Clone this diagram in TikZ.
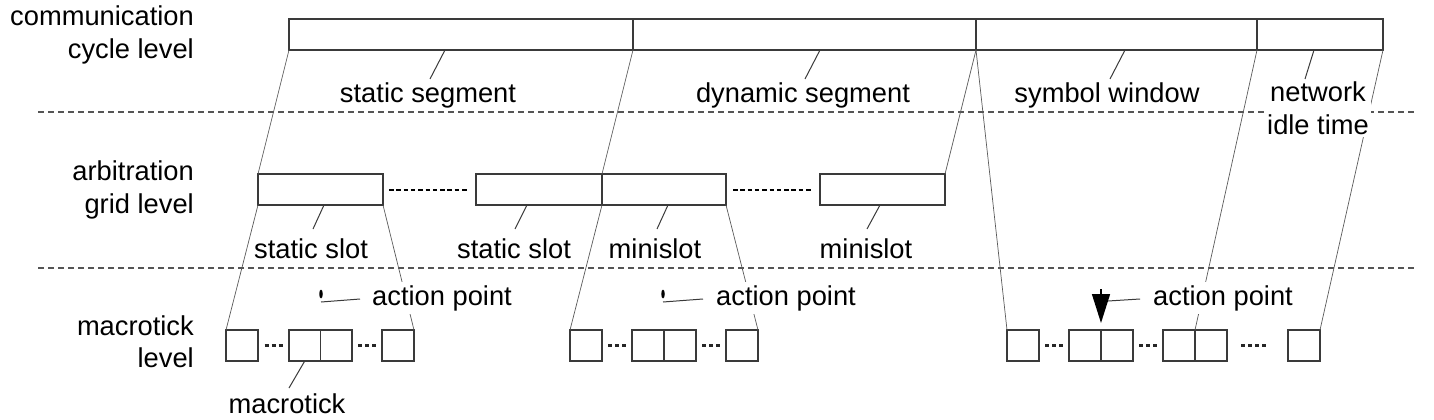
\documentclass[tikz,border=0pt]{standalone}
\usepackage{fontspec}
\setmainfont{Liberation Sans}
\usetikzlibrary{arrows.meta,calc,shapes.geometric}
\definecolor{boxc}{HTML}{3A3A3A}
\definecolor{connc}{HTML}{5A5A5A}
\definecolor{sepc}{HTML}{555555}
\begin{document}
\begin{tikzpicture}[x=1pt,y=-1pt,
  box/.style={draw=boxc, line width=1.3pt, rectangle, inner sep=0pt, outer sep=0pt, minimum height=31pt},
  tick/.style={box, minimum width=32pt},
  conn/.style={draw=connc, line width=0.7pt},
  leader/.style={draw=boxc, line width=1pt},
  sepline/.style={draw=sepc, line width=1.3pt, dash pattern=on 6pt off 4pt},
  dotsrow/.style={draw=black, line width=2pt, dash pattern=on 4.5pt off 2.8pt},
  dotstick/.style={draw=black!85, line width=2.4pt, dash pattern=on 4pt off 3pt},
  lbl/.style={font=\fontsize{27.3}{33}\selectfont, inner sep=0pt, text=black},
  white/.style={fill=white, inner sep=3pt},
  blob/.style={ellipse, fill=black, inner sep=0pt, minimum width=3.5pt, minimum height=9pt}
]
\useasboundingbox (0,0) rectangle (1434,420);

% separators
\coordinate (s1a) at (38,112); \coordinate (s1b) at (1415,112);
\coordinate (s2a) at (38,268); \coordinate (s2b) at (1415,268);
\draw[sepline] (s1a) -- (s1b);
\draw[sepline] (s2a) -- (s2b);

% communication cycle level
\node[box, minimum width=344pt] (ss)  at (461,34.5) {};
\node[box, minimum width=343pt] (ds)  at (804.5,34.5) {};
\node[box, minimum width=281pt] (sw)  at (1116.5,34.5) {};
\node[box, minimum width=126pt] (nit) at (1320,34.5) {};

% arbitration grid level
\node[box, minimum width=125pt] (sl1) at (320.5,189.5) {};
\node[box, minimum width=126pt] (sl2) at (539,189.5) {};
\node[box, minimum width=124pt] (ms1) at (664,189.5) {};
\node[box, minimum width=125pt] (ms2) at (882.5,189.5) {};

% macrotick level
\node[tick] (g1a) at (242,345.5) {};
\node[tick, minimum width=31.5pt] (g1b) at (304.75,345.5) {};
\node[tick, minimum width=31.5pt] (g1c) at (336.25,345.5) {};
\node[tick] (g1d) at (398,345.5) {};
\node[tick] (g2a) at (586,345.5) {};
\node[tick] (g2b) at (648,345.5) {};
\node[tick] (g2c) at (680,345.5) {};
\node[tick] (g2d) at (742,345.5) {};
\node[tick] (g3a) at (1023,345.5) {};
\node[tick] (g3b) at (1085,345.5) {};
\node[tick] (g3c) at (1117,345.5) {};
\node[tick] (g3d) at (1179,345.5) {};
\node[tick] (g3e) at (1211,345.5) {};
\node[tick] (g3f) at (1304,345.5) {};

% connectors between levels
\draw[conn] (ss.south west) -- (sl1.north west);
\draw[conn] (ds.south west) -- (ms1.north west);
\draw[conn] (ds.south east) -- (ms2.north east);
\draw[conn] (sw.south west) -- (g3a.north west);
\draw[conn] (sw.south east) -- (g3d.north east);
\draw[conn] (nit.south east) -- (g3f.north east);
\draw[conn] (sl1.south west) -- (g1a.north west);
\draw[conn] (sl1.south east) -- (g1d.north east);
\draw[conn] (ms1.south west) -- (g2a.north west);
\draw[conn] (ms1.south east) -- (g2d.north east);

% dotted continuation marks
\draw[dotsrow] ([xshift=6pt]sl1.east) -- ([xshift=-7pt]sl2.west);
\draw[dotsrow] ([xshift=7pt]ms1.east) -- ([xshift=-7pt]ms2.west);
\draw[dotstick] ([xshift=6.5pt]g1a.east) -- ([xshift=-6.5pt]g1b.west);
\draw[dotstick] ([xshift=6pt]g1c.east) -- ([xshift=-6pt]g1d.west);
\draw[dotstick] ([xshift=6pt]g2a.east) -- ([xshift=-6pt]g2b.west);
\draw[dotstick] ([xshift=6pt]g2c.east) -- ([xshift=-6pt]g2d.west);
\draw[dotstick] ([xshift=6pt]g3a.east) -- ([xshift=-6pt]g3b.west);
\draw[dotstick] ([xshift=6pt]g3c.east) -- ([xshift=-6pt]g3d.west);
\draw[dotstick] ([xshift=14pt]g3e.east) -- ([xshift=-21pt]g3f.west);

% leader end points
\coordinate (kss) at (430,79);
\coordinate (kds) at (805,79);
\coordinate (ksw) at (1110,79);
\coordinate (knit) at (1305,79);
\coordinate (ksl1) at (313,229);
\coordinate (ksl2) at (515,229);
\coordinate (kms1) at (657,229);
\coordinate (kms2) at (867,229);
\coordinate (kmt) at (289,388);

\draw[leader] ([xshift=-16pt]ss.south) -- (kss);
\draw[leader] ([xshift=15.5pt]ds.south) -- (kds);
\draw[leader] ([xshift=8.5pt]sw.south) -- (ksw);
\draw[leader] ([xshift=-6pt]nit.south) -- (knit);
\draw[leader] ([xshift=3.5pt]sl1.south) -- (ksl1);
\draw[leader] ([xshift=-12pt]sl2.south) -- (ksl2);
\draw[leader] ([xshift=4pt]ms1.south) -- (kms1);
\draw[leader] ([xshift=-2.5pt]ms2.south) -- (kms2);
\draw[leader] (g1b.south) -- (kmt);

% labels
\node[lbl, anchor=base east] (t1a) at (194,26) {communication};
\node[lbl, anchor=base east] (t1b) at (194,59) {cycle level};
\node[lbl, anchor=base east] (t2a) at (194,180) {arbitration};
\node[lbl, anchor=base east] (t2b) at (194,213) {grid level};
\node[lbl, anchor=base east] (t3a) at (194,335) {macrotick};
\node[lbl, anchor=base east] (t3b) at (194,367) {level};

\node[lbl, anchor=base] (lss) at (428,102) {static segment};
\node[lbl, anchor=base] (lds) at (803,102) {dynamic segment};
\node[lbl, anchor=base] (lsw) at (1107,102) {symbol window};
\node[lbl, white, inner sep=2pt, align=center, anchor=north] (lnit) at (1318,80) {network\\idle time};

\node[lbl, anchor=base] (lsl1) at (311,258) {static slot};
\node[lbl, anchor=base] (lsl2) at (514,258) {static slot};
\node[lbl, anchor=base] (lms1) at (655,258) {minislot};
\node[lbl, anchor=base] (lms2) at (866,258) {minislot};
\node[lbl, anchor=base] (lmt) at (287,413) {macrotick};

% action points
\node[lbl, white, anchor=base west] (ap1l) at (369,305) {action point};
\node[lbl, white, anchor=base west] (ap2l) at (713,305) {action point};
\node[lbl, white, anchor=base west] (ap3l) at (1150,305) {action point};

\node[blob] (ap1) at (321,294) {};
\node[blob] (ap2) at (663,294) {};
\coordinate (ap1s) at (321,302); \coordinate (ap1e) at (360,299);
\coordinate (ap2s) at (663,302); \coordinate (ap2e) at (703,299);
\draw[leader] (ap1s) -- (ap1e);
\draw[leader] (ap2s) -- (ap2e);

\coordinate (ap3t) at (1101,289);
\draw[draw=black, line width=1.5pt, -{Triangle[width=18pt,length=29pt]}] (ap3t) -- ([yshift=7pt]g3b.north east);
\coordinate (ap3s) at (1108,301); \coordinate (ap3e) at (1140,299);
\draw[leader] (ap3s) -- (ap3e);
\end{tikzpicture}
\end{document}
